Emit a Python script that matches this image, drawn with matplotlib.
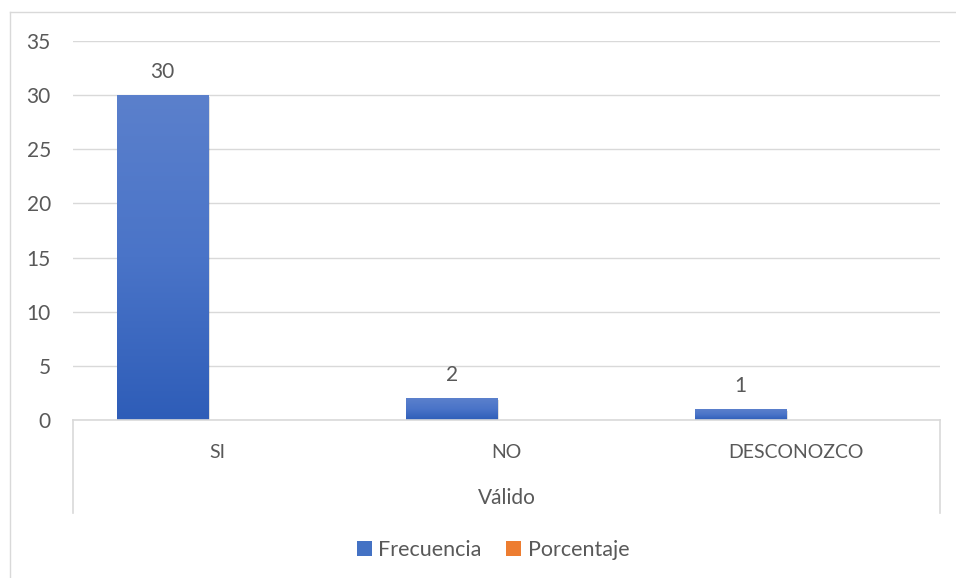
import matplotlib
matplotlib.use("Agg")
import matplotlib.pyplot as plt
import numpy as np
from matplotlib.patches import Rectangle
from matplotlib.lines import Line2D
from matplotlib.colors import LinearSegmentedColormap

categories = ["SI", "NO", "DESCONOZCO"]
frecuencia = [30, 2, 1]
porcentaje = [0, 0, 0]
series_names = ["Frecuencia", "Porcentaje"]
group_label = "Válido"
yticks = [0, 5, 10, 15, 20, 25, 30, 35]

W, H = 956, 578
FONT = "Lato"
TXT = "#595959"
GRID = "#D9D9D9"
BLUE = "#4472C4"
ORANGE = "#ED7D31"
FS = 14
FSN = 15

plt.rcParams["font.family"] = [FONT, "DejaVu Sans"]

fig = plt.figure(figsize=(W / 100, H / 100), dpi=100)
fig.patch.set_facecolor("white")

# outer chart border
fig.add_artist(Line2D([9.5 / W, 9.5 / W], [0, (H - 11.5) / H], transform=fig.transFigure,
                      color=GRID, lw=1.0))
fig.add_artist(Line2D([9.5 / W, 1.0], [(H - 11.5) / H, (H - 11.5) / H], transform=fig.transFigure,
                      color=GRID, lw=1.0))

left, right, top, bottom = 73, 940, 41, 420
ax = fig.add_axes([left / W, (H - bottom) / H, (right - left) / W, (bottom - top) / H])
ax.set_xlim(-0.5, len(categories) - 0.5)
ax.set_ylim(0, 35)
ax.set_yticks(yticks)
ax.set_yticklabels([str(t) for t in yticks])
ax.yaxis.grid(True, color=GRID, lw=1.0)
ax.set_axisbelow(True)
for s in ax.spines.values():
    s.set_visible(False)
ax.tick_params(axis="y", length=0, pad=16, labelsize=FSN, labelcolor=TXT)
ax.set_xticks([])

x = np.arange(len(categories))
bw = 0.315
off = 0.19
bars = ax.bar(x - off, frecuencia, width=bw, color=BLUE, zorder=3)
ax.bar(x + off, porcentaje, width=bw, color=ORANGE, zorder=3)

cmap = LinearSegmentedColormap.from_list("g", ["#2E5DB8", "#4A74C8", "#5B80CC"])
grad = np.linspace(0, 1, 256).reshape(-1, 1)
for b in bars:
    bx, by = b.get_x(), b.get_y()
    bwid, bh = b.get_width(), b.get_height()
    sh = Rectangle((bx, by), bwid, bh, facecolor="#000000", alpha=0.12, zorder=2,
                   transform=ax.transData + matplotlib.transforms.Affine2D().translate(2, -2))
    ax.add_patch(sh)
    im = ax.imshow(grad, cmap=cmap, aspect="auto", origin="lower",
                   extent=(bx, bx + bwid, by, by + bh), zorder=4)
    im.set_clip_path(b)

ax.set_xlim(-0.5, len(categories) - 0.5)
ax.set_ylim(0, 35)

for xi, v in zip(x, frecuencia):
    ax.annotate(str(v), xy=(xi - off, v), xytext=(0, 23), textcoords="offset pixels",
                ha="center", va="center", fontsize=FSN, color=TXT)

# category axis
ax.add_line(Line2D([0, 1], [0, 0], transform=ax.transAxes, color=GRID, lw=1.2, clip_on=False, zorder=5))
depth = (513 - 420) / (bottom - top)
for xa in (0, 1):
    ax.add_line(Line2D([xa, xa], [0, -depth], transform=ax.transAxes, color=GRID, lw=1.2, clip_on=False))

for xi, c in zip(x, categories):
    ax.annotate(c, xy=(xi, 0), xycoords=("data", "axes fraction"), xytext=(0, -32),
                textcoords="offset pixels", ha="center", va="center", fontsize=FS, color=TXT,
                annotation_clip=False)
ax.annotate(group_label, xy=(0.5, 0), xycoords="axes fraction", xytext=(0, -78),
            textcoords="offset pixels", ha="center", va="center", fontsize=FSN, color=TXT,
            annotation_clip=False)

handles = [Rectangle((0, 0), 1, 1, facecolor=BLUE), Rectangle((0, 0), 1, 1, facecolor=ORANGE)]
fig.legend(handles, series_names, loc="center", bbox_to_anchor=(493 / W, (H - 550) / H),
           ncol=2, frameon=False, fontsize=15.5, labelcolor=TXT, handlelength=0.7,
           handleheight=0.7, handletextpad=0.3, columnspacing=1.15)

fig.savefig("out.png", dpi=100)
